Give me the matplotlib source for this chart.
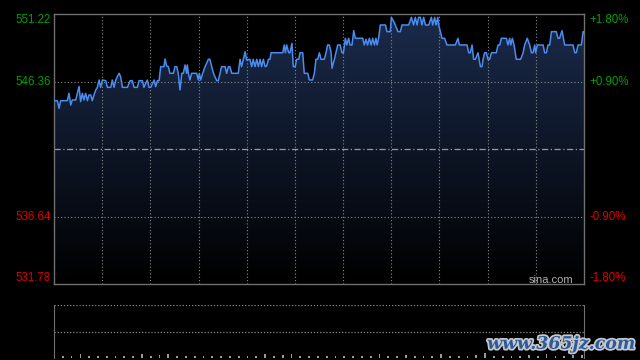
#!/usr/bin/env python3

import matplotlib
matplotlib.use("Agg")
import matplotlib.pyplot as plt
import matplotlib.patheffects as pe
from matplotlib.colors import LinearSegmentedColormap
import numpy as np

# intraday minute index (0..241) and price
minute = [
    0.0, 1.5, 2.3, 3.0, 6.1, 6.8, 7.6, 8.3, 9.9, 10.6, 11.4, 12.1, 12.9, 13.6,
    14.4, 15.2, 15.9, 16.7, 17.4, 18.2, 19.0, 19.7, 20.5, 21.2, 22.0, 23.5,
    24.3, 25.8, 26.5, 27.3, 28.0, 28.8, 29.6, 30.3, 31.1, 33.4, 34.6, 35.6,
    36.4, 37.9, 38.7, 40.2, 40.9, 42.4, 43.2, 44.0, 45.5, 46.2, 47.0, 47.8,
    48.5, 50.0,
    50.5, 51.2, 52.0, 52.7, 54.3, 55.0, 55.8, 56.5, 57.3, 58.1, 58.8, 59.6,
    60.3, 60.6, 61.1, 61.8, 62.6, 64.9, 65.6, 66.1, 66.7, 67.6, 68.7, 70.2,
    70.9, 71.7, 72.5, 74.0, 74.7, 75.5, 76.2, 77.8, 78.5, 79.3, 80.0, 80.8,
    83.8, 84.6, 85.3, 86.1, 86.9, 87.6, 89.1, 89.9, 90.6, 91.4, 92.2, 92.9,
    93.7, 94.4, 95.2, 96.0, 96.7, 97.5, 98.2,
    98.7, 104.0, 104.7, 105.2, 105.8, 106.7, 107.3, 108.2, 108.8, 109.7,
    110.3, 111.3, 111.9, 113.1, 113.8, 115.4, 116.1, 117.6, 118.4, 119.1,
    119.9, 120.7, 121.4, 122.9, 123.7, 124.4, 125.2, 126.0, 126.4, 127.5,
    128.2, 129.0, 130.1, 131.0, 131.6, 132.5, 133.1, 134.0, 134.6, 135.5,
    136.3, 137.0, 140.4, 141.1, 141.9, 142.6, 143.4, 144.2, 144.9, 145.7,
    146.4,
    146.9, 147.6, 148.4, 150.7, 151.4, 152.9, 153.4, 154.5, 155.2, 156.4,
    157.5, 158.2, 161.3, 162.5, 163.5, 164.3, 165.1, 165.8, 166.6, 167.3,
    168.1, 168.9, 170.4, 171.6, 172.2, 173.1, 173.7, 174.5, 174.9, 175.7,
    176.4, 177.6, 178.7, 182.5, 183.7, 184.3, 187.8, 188.6, 189.3, 190.1,
    190.8, 191.6, 192.8, 193.9, 194.6,
    195.1, 195.8, 196.6, 197.3, 198.1, 198.9, 201.1, 201.9, 202.7, 203.4,
    205.7, 206.4, 207.2, 207.7, 208.4, 209.2, 210.2, 212.2, 213.3, 214.0,
    215.2, 216.3, 217.1, 217.8, 218.6, 219.0, 219.8, 222.4, 223.1, 223.9,
    224.6, 225.4, 226.2, 228.4, 229.2, 229.9, 231.0, 232.2, 236.0, 236.8,
    237.5, 238.3, 239.8, 240.6, 241.0,
]
price = [
    544.98, 544.98, 544.43, 544.98, 544.98, 545.51, 544.67, 545.03, 545.03,
    545.51, 546.00, 544.91, 545.51, 545.03, 545.51, 544.98, 545.39, 545.39,
    544.98, 545.39, 545.75, 545.94, 546.47, 545.94, 546.47, 546.42, 545.94,
    545.94, 546.47, 545.94, 546.42, 546.71, 546.95, 546.71, 545.94, 545.94,
    546.42, 546.42, 545.94, 545.94, 546.42, 546.42, 545.94, 546.47, 545.94,
    545.94, 546.47, 545.99, 546.42, 546.42, 547.43, 547.43,
    547.98, 547.48, 547.43, 546.95, 546.95, 547.43, 547.43, 546.95, 545.75,
    546.95, 546.95, 547.55, 546.95, 547.55, 546.95, 546.47, 546.95, 546.95,
    546.47, 546.95, 546.47, 546.95, 547.43, 547.96, 547.96, 547.43, 546.95,
    546.42, 546.42, 546.95, 547.43, 547.43, 546.95, 547.43, 547.43, 546.95,
    546.95, 547.96, 547.43, 547.96, 548.50, 547.91, 547.96, 547.43, 547.96,
    547.43, 547.96, 547.43, 547.96, 547.43, 547.96, 547.43, 547.48, 547.96,
    547.96,
    548.43, 548.43, 548.99, 548.43, 548.99, 548.43, 548.43, 549.11, 547.43,
    547.43, 547.96, 547.96, 548.43, 548.43, 546.95, 546.95, 546.47, 546.47,
    546.95, 547.96, 547.96, 548.43, 547.96, 547.96, 548.43, 548.99, 548.99,
    548.43, 547.31, 547.96, 548.43, 548.99, 548.99, 548.43, 548.43, 549.47,
    548.99, 549.47, 548.99, 548.99, 550.02, 549.47, 549.47, 548.99, 549.40,
    548.99, 549.47, 548.99, 549.47, 548.99, 549.47,
    548.99, 549.47, 550.43, 550.43, 549.95, 549.95, 550.98, 550.67, 550.43,
    549.95, 549.95, 550.43, 550.43, 550.98, 550.43, 550.98, 550.43, 550.98,
    550.98, 550.43, 550.98, 550.43, 550.43, 550.98, 550.43, 550.98, 550.43,
    550.98, 550.43, 549.95, 549.47, 549.47, 548.99, 548.99, 549.47, 548.99,
    548.99, 548.43, 548.43, 548.99, 547.96, 547.96, 548.43, 547.43, 547.43,
    547.96, 548.43, 548.43, 547.96, 547.96, 548.43, 548.43, 548.99, 548.99,
    549.47, 549.47, 548.99, 549.47, 548.99, 549.47, 548.99, 547.96, 547.96,
    548.43, 548.99, 549.47, 548.99, 548.43, 548.43, 548.99, 548.43, 548.99,
    548.99, 548.43, 548.43, 548.99, 548.99, 549.95, 549.95, 549.47, 549.47,
    550.02, 548.99, 548.99, 548.43, 548.43, 548.99, 548.99, 549.95, 549.95,
]

# volume, one bar every 4 minutes
vol_minute = list(range(0, 242, 4))
volume = [
    6, 2, 2, 5, 2, 2, 2, 2, 2, 2, 4, 2, 3, 5, 2, 2, 2, 2, 2, 2, 2, 2, 2, 2,
    5, 2, 3, 4, 2, 2, 2, 2, 2, 2, 2, 2, 2, 4, 2, 2, 3, 2, 2, 2, 5, 2, 2, 2,
    3, 6, 2, 2, 2, 2, 3, 2, 4, 2, 2, 3, 3,
]

prev_close = 541.50
y_lo, y_hi = 531.78, 551.22
left_labels = ["551.22", "546.36", "536.64", "531.78"]
right_labels = ["+1.80%", "+0.90%", "-0.90%", "-1.80%"]
label_prices = [551.22, 546.36, 536.64, 531.78]

GREEN = "#00a000"
RED = "#dd0000"
GRID = "#8a8a8a"
FRAME = "#707070"
LINE = "#4a8cf0"

plt.rcParams['font.family'] = ['Liberation Sans', 'DejaVu Sans']

fig = plt.figure(figsize=(6.4, 3.6), dpi=100, facecolor="black")
ax = fig.add_axes([54 / 640, 1 - 284 / 360, 530 / 640, 270 / 360])
ax.set_facecolor("black")
ax.set_xlim(0, 241)
ax.set_ylim(y_lo, y_hi)

# gradient area under the line
poly = ax.fill_between(minute, price, y_lo, color="none", lw=0)
cmap = LinearSegmentedColormap.from_list("g", ["#000000", "#1b2b4c"])
grad = ax.imshow(np.linspace(0, 1, 256).reshape(-1, 1), cmap=cmap, origin="lower",
                 aspect="auto", extent=[0, 241, y_lo, y_hi], zorder=1)
grad.set_clip_path(poly.get_paths()[0], transform=ax.transData)
ax.plot(minute, price, color=LINE, lw=1.1, zorder=3)

# grid
for xv in np.linspace(0, 241, 12)[1:-1]:
    ax.axvline(xv, color=GRID, lw=0.8, ls=(0, (1, 2)), zorder=2)
for yv in [546.36, 536.64]:
    ax.axhline(yv, color=GRID, lw=0.8, ls=(0, (1, 2)), zorder=2)
ax.axhline(prev_close, color="#9a9a9a", lw=0.9, ls=(0, (5, 2, 1, 2)), zorder=2)

ax.set_xticks([])
ax.set_yticks([])
for s in ax.spines.values():
    s.set_color(FRAME)
    s.set_linewidth(1.0)

# axis labels
for lab, rlab, p in zip(left_labels, right_labels, label_prices):
    col = GREEN if p > prev_close else RED
    va = "center"
    if p == y_hi:
        va = "top"
    elif p == y_lo:
        va = "bottom"
    ax.text(-0.006, p, lab, transform=ax.get_yaxis_transform(), ha="right",
            va=va, color=col, fontsize=8.3)
    ax.text(1.011, p, rlab, transform=ax.get_yaxis_transform(), ha="left",
            va=va, color=col, fontsize=8.3)

ax.text(0.98, -0.004, "sina.com", transform=ax.transAxes, ha="right", va="bottom",
        color="#b0b0b0", fontsize=8)

# volume panel
vax = fig.add_axes([54 / 640, 1 - 358 / 360, 530 / 640, 53 / 360])
vax.set_facecolor("black")
vax.set_xlim(0, 241)
vax.set_ylim(0, 60)
vax.bar(vol_minute, volume, width=0.8, color="#9a9a9a", zorder=2)
vax.axhline(60, color=GRID, lw=0.9, ls=(0, (1, 1.5)))
vax.axhline(30, color=GRID, lw=0.9, ls=(0, (1, 1.5)))
vax.set_xticks([])
vax.set_yticks([])
for k in ["top", "bottom"]:
    vax.spines[k].set_visible(False)
for k in ["left", "right"]:
    vax.spines[k].set_color(FRAME)

fig.text(0.993, 0.02, "www.365jz.com", ha="right", va="bottom", color="#2d5a9e",
         fontsize=12.5, fontweight="bold", family="DejaVu Serif", style="italic",
         path_effects=[pe.withStroke(linewidth=2.5, foreground="#c8c8c8")])

fig.savefig("out.png", dpi=100, facecolor="black")
